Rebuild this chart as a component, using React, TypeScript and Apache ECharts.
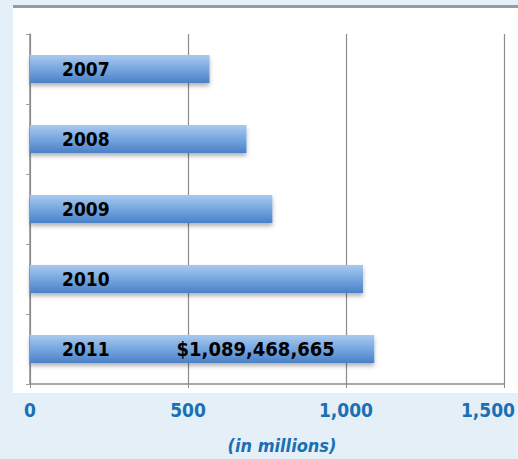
import React, { useEffect, useRef } from "react";
import * as echarts from "echarts";

const years = ["2007", "2008", "2009", "2010", "2011"];
const values = [568, 685, 767, 1054, 1089.468665];
const highlightLabel = "$1,089,468,665";
const xTicks = [0, 500, 1000, 1500];
const axisTitle = "(in millions)";

const FONT = "'Liberation Sans Narrow', 'DejaVu Sans Condensed', 'Arial Narrow', sans-serif";
const BLUE = "#1a70b4";

export default function App() {
  const ref = useRef<HTMLDivElement>(null);
  useEffect(() => {
    document.body.style.margin = "0";
    const chart = echarts.init(ref.current!, null, { renderer: "svg" });
    const last = years.length - 1;
    chart.setOption({
      animation: false,
      backgroundColor: "#e4eff7",
      graphic: [
        { type: "rect", z: -10, shape: { x: 13, y: 7, width: 505, height: 386 }, style: { fill: "#ffffff" } },
        { type: "rect", z: -9, shape: { x: 13, y: 5, width: 505, height: 3 }, style: { fill: "#9a9a9a" } },
      ],
      grid: { left: 30, right: 12, top: 34, bottom: 71 },
      xAxis: {
        type: "value",
        min: 0,
        max: 1500,
        interval: 500,
        name: axisTitle,
        nameLocation: "middle",
        nameGap: 52,
        nameTextStyle: { color: BLUE, fontFamily: FONT, fontSize: 18, fontWeight: "bold", fontStyle: "italic", padding: [0, 0, 0, 30] },
        axisLine: { show: true, lineStyle: { color: "#8c8c8c", width: 1.5 } },
        axisTick: { show: true, length: 4, lineStyle: { color: "#8c8c8c" } },
        splitLine: { show: true, lineStyle: { color: "#8c8c8c", width: 1.2 } },
        axisLabel: {
          margin: 16,
          color: BLUE,
          fontFamily: FONT,
          fontSize: 19,
          fontWeight: "bold",
          formatter: (v: number) => {
            const s = v.toLocaleString("en-US");
            return v === xTicks[xTicks.length - 1] ? `{m|${s}}` : s;
          },
          rich: { m: { color: BLUE, fontFamily: FONT, fontSize: 19, fontWeight: "bold", padding: [0, 32, 0, 0] } },
        },
      },
      yAxis: {
        type: "category",
        data: years,
        inverse: true,
        axisLine: { show: true, lineStyle: { color: "#8c8c8c", width: 1.5 } },
        axisTick: { show: true, length: 4, lineStyle: { color: "#a0a0a0" } },
        axisLabel: { show: false },
        splitLine: { show: false },
      },
      series: [
        {
          type: "bar",
          barWidth: 28,
          data: values.map((v, i) => ({
            value: v,
            label:
              i === last
                ? { formatter: `{y|${years[i]}}{v|${highlightLabel}}` }
                : { formatter: years[i] },
          })),
          itemStyle: {
            color: new echarts.graphic.LinearGradient(0, 0, 0, 1, [
              { offset: 0, color: "#a9c9ee" },
              { offset: 0.5, color: "#76a7df" },
              { offset: 1, color: "#4a80c6" },
            ]),
            shadowColor: "rgba(0,0,0,0.3)",
            shadowBlur: 4,
            shadowOffsetY: 3,
          },
          label: {
            show: true,
            position: "insideLeft",
            distance: 32,
            color: "#000",
            fontFamily: FONT,
            fontSize: 19,
            fontWeight: "bold",
            rich: {
              y: { color: "#000", fontFamily: FONT, fontSize: 19, fontWeight: "bold" },
              v: { color: "#000", fontFamily: FONT, fontSize: 20, fontWeight: "bold", padding: [0, 0, 0, 67] },
            },
          },
        },
      ],
    });
    return () => chart.dispose();
  }, []);
  return <div ref={ref} style={{ width: 518, height: 459 }} />;
}
